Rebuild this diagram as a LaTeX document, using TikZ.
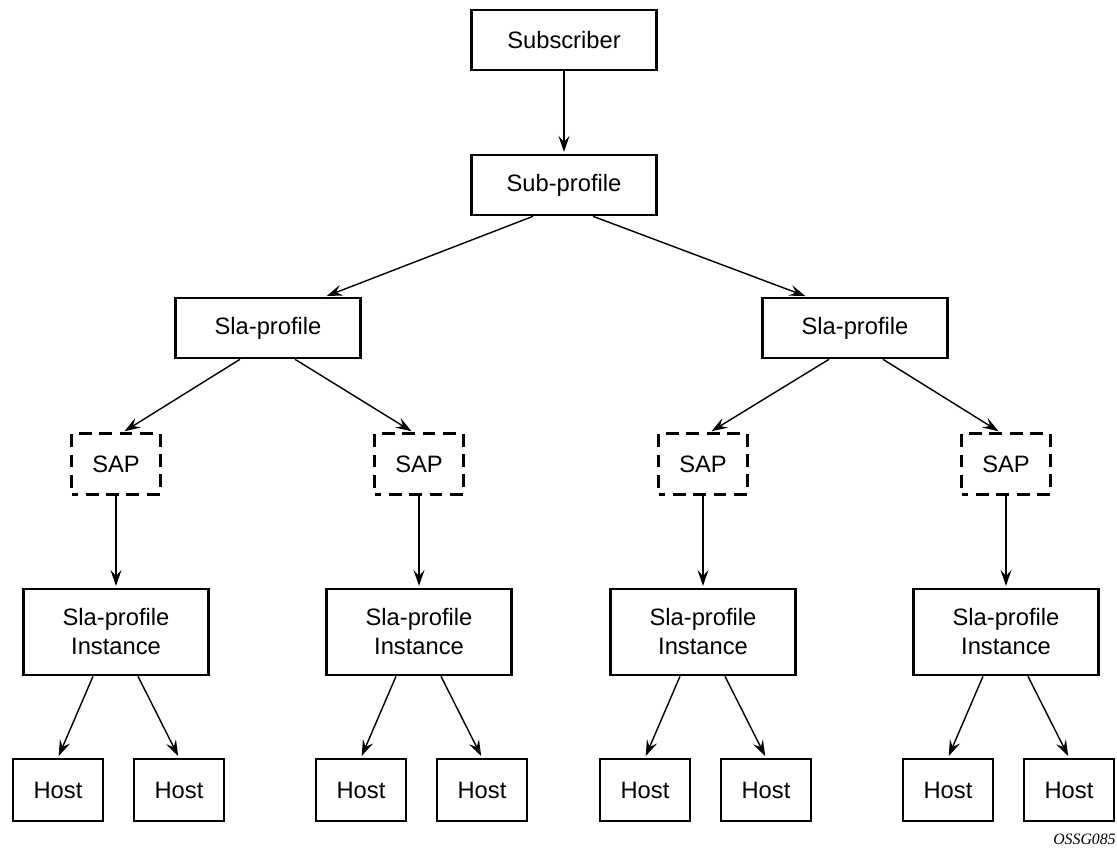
\documentclass[tikz,border=0pt]{standalone}
\usepackage{fontspec}
\setmainfont{Liberation Sans}
\newfontfamily\tagfont{Liberation Serif}
\usetikzlibrary{arrows.meta,calc}

\begin{document}
\begin{tikzpicture}[
  x=0.02cm, y=-0.02cm,
  font=\fontsize{13.5}{16.5}\selectfont,
  objbox/.style={draw, line width=1.5pt, minimum width=3.7cm, minimum height=1.2cm,
                 inner sep=0, align=center},
  instbox/.style={objbox, minimum height=1.72cm},
  sapbox/.style={draw, line width=1.5pt, dash pattern=on 2.6mm off 1.5mm, dash phase=1.3mm,
                 minimum width=1.78cm, minimum height=1.22cm, inner sep=0},
  hostbox/.style={draw, line width=1.5pt, minimum width=1.8cm, minimum height=1.24cm, inner sep=0},
  flow/.style={-{Stealth[length=3.2mm, width=2.2mm, inset=1.2mm]}, line width=0.8pt, shorten >=1pt},
]

\useasboundingbox (0,0) rectangle (1117,848);

% ---- top of the tree ----
\node[objbox] (subscr) at (564, 40) {Subscriber};
\node[objbox] (subprof) at (564, 185) {Sub-profile};
\draw[flow] (subscr) -- (subprof);

% ---- sla profiles ----
\node[objbox] (slaL) at (268, 328) {Sla-profile};
\node[objbox] (slaR) at (855, 328) {Sla-profile};
\draw[flow] ($(subprof.south)+(-31,0)$) -- ($(slaL.north)+(57,0)$);
\draw[flow] ($(subprof.south)+(29,0)$) -- ($(slaR.north)+(-48,0)$);

% ---- SAP, instance and hosts, one column each ----
\foreach \n/\x in {1/116, 2/419, 3/703, 4/1006}{
  \node[sapbox] (sap\n) at (\x, 464) {SAP};
  \node[instbox] (inst\n) at (\x, 632) {Sla-profile\\Instance};
  \node[hostbox] (hostA\n) at (\x-58, 790) {Host};
  \node[hostbox] (hostB\n) at (\x+63, 790) {Host};
  \draw[flow] (sap\n) -- (inst\n);
  \draw[flow] ($(inst\n.south)+(-23,0)$) -- (hostA\n.north);
  \draw[flow] ($(inst\n.south)+(22,0)$) -- (hostB\n.north);
}

% ---- sla profile to its two SAPs ----
\draw[flow] ($(slaL.south)+(-28,0)$) -- ($(sap1.north)+(7,0)$);
\draw[flow] ($(slaL.south)+(27,0)$) -- ($(sap2.north)+(-6,0)$);
\draw[flow] ($(slaR.south)+(-26,0)$) -- ($(sap3.north)+(7,0)$);
\draw[flow] ($(slaR.south)+(28,0)$) -- ($(sap4.north)+(-6,0)$);

% ---- figure tag ----
\node[font=\tagfont\itshape\fontsize{9}{10}\selectfont, anchor=east, inner sep=0] (figtag)
  at (1116, 839) {OSSG085};

\end{tikzpicture}
\end{document}
